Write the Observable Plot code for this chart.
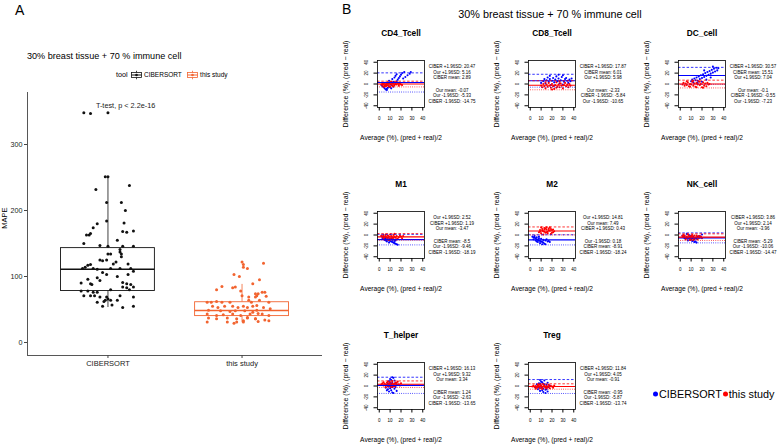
<!DOCTYPE html>
<html><head><meta charset="utf-8">
<script src="https://cdn.jsdelivr.net/npm/d3@7"></script>
<script src="https://cdn.jsdelivr.net/npm/@observablehq/plot@0.6"></script>
<style>
html,body{margin:0;padding:0;background:#fff;}
#root{position:relative;width:778px;height:445px;overflow:hidden;font-family:"Liberation Sans",Arial,Helvetica,sans-serif;color:#000;}
.abs{position:absolute;white-space:nowrap;line-height:1;transform:translateY(-50%);}
.plot{position:absolute;}
.plot svg{overflow:visible;max-width:none !important;display:block;}
</style></head><body><div id="root"></div>
<script>
// ---------------- DATA ----------------
const mainTitle = "30% breast tissue + 70 % immune cell";
const tools = ["CIBERSORT", "this study"];
const toolColors = ["#111111", "#F26430"];
const boxQ1 = [78, 40];
const boxMedian = [111, 48.5];
const boxQ3 = [143, 61];
const whiskerLo = [53, 30];
const whiskerHi = [250, 88];
const yTicksA = [0, 100, 200, 300];
const pLabel = "T-test, p < 2.2e-16";
// [jitter offset, MAPE]
const ciberMape = [[-0.18,348],[-0.13,347],[0.00,348],[-0.02,251],[0.00,251],[-0.09,232],[0.16,238],
[-0.01,212],[0.10,212],[0.13,200],[-0.01,184],[0.12,181],[-0.08,180],[-0.11,174],[0.11,168],[0.14,167],[0.19,169],[-0.16,163],[-0.14,163],[-0.13,165],[0.07,155],[-0.18,150],[-0.06,147],[0.00,146],[0.11,146],[0.19,146],[0.09,141],[0.09,137],[0.10,134],[0.00,134],[0.02,134],[0.10,130],[-0.06,125],[-0.04,124],[-0.01,125],[0.06,122],[0.04,119],[0.15,119],[-0.15,117],[-0.13,118],[-0.17,114],[-0.19,112],[-0.11,112],[-0.08,111],[0.02,112],[0.09,112],[0.17,112],[0.19,108],[-0.04,106],[0.15,103],[-0.01,103],[0.07,100],[-0.08,98],[-0.15,96],[-0.06,94],[-0.20,90],[-0.13,89],[-0.12,88],[0.11,91],[0.14,89],[0.17,88],[0.11,84],[0.14,83],[0.19,84],[-0.20,78],[-0.15,78],[-0.11,76],[-0.08,76],[0.02,80],[0.16,80],[-0.18,71],[-0.13,71],[-0.10,71],[0.09,71],[0.19,69],[-0.06,69],[-0.01,69],[-0.08,61],[-0.03,62],[0.02,64],[0.07,64],[-0.04,55],[0.03,57],[0.11,53],[0.19,55],[-0.02,64],[0.00,66]];
const studyMape = [[0.00,122],[0.01,118],[0.01,114],[0.04,112],[-0.06,103],[-0.02,100],[0.08,89],[-0.07,83],[-0.05,84],[-0.15,85],[-0.19,80],[-0.01,78],[0.11,71],[0.12,74],[0.10,69],[-0.26,61],[-0.23,61],[-0.19,62],[-0.15,61],[-0.09,61],[0.05,64],[0.07,61],[-0.22,55],[-0.18,53],[-0.13,55],[-0.07,55],[-0.03,53],[0.01,55],[0.04,53],[0.08,55],[-0.25,49],[-0.16,48],[-0.09,47],[-0.05,48],[0.02,48],[0.11,49],[-0.26,43],[-0.19,41],[-0.14,42],[-0.07,43],[-0.01,41],[0.06,43],[0.12,44],[-0.25,37],[-0.19,36],[-0.11,37],[-0.04,36],[0.04,37],[0.10,36],[-0.26,31],[-0.06,29],[-0.04,31],[0.01,33],[-0.11,31],[0.00,71],[0.05,69],[0.10,74],[0.15,76],[0.18,70],[0.17,76],[0.13,64],[0.20,61],[0.11,56],[0.16,53],[0.21,51],[0.08,46],[0.15,43],[0.20,41],[0.04,38],[0.10,36],[0.17,34],[0.01,31],[0.12,32],[0.20,33],[0.16,120],[0.13,95]];

const cellTypes = ["CD4_Tcell","CD8_Tcell","DC_cell","M1","M2","NK_cell","T_helper","Treg"];
const ciberUpper = [20.47, 17.87, 30.57, 1.19, 0.43, 3.86, 16.13, 11.84];
const ciberMean  = [2.89, 6.01, 15.51, -8.5, -8.91, -5.29, 1.24, -0.95];
const ciberLower = [-14.75, -5.84, -0.55, -18.19, -18.24, -14.47, -13.65, -13.74];
const ourUpper   = [5.16, 5.98, 7.04, 2.52, 14.81, 2.14, 9.32, 4.05];
const ourMean    = [-0.07, -2.33, -0.1, -3.47, 7.49, -3.96, 3.34, -0.91];
const ourLower   = [-5.33, -10.65, -7.23, -9.46, 0.18, -10.06, -2.63, -5.87];
const xTicksB = [0, 10, 20, 30, 40];
const yTicksB = [-40, -20, 0, 20, 40];
// [average, difference]
const cd4Ciber = [[2,-2],[3,-4],[4,-6],[5,-8],[6,-10],[7,-9],[8,-7],[5,-3],[6,-1],[8,1],[9,-4],[10,-6],[11,-2],[12,1],[10,3],[13,4],[14,-1],[15,2],[16,5],[17,8],[18,11],[19,14],[20,17],[21,20],[23,22],[14,12],[15,15],[16,18],[22,10],[24,13],[26,16],[28,19],[29,22],[12,9],[9,6],[11,-8],[7,-11],[13,-5]];
const cd4Ours = [[2,-1],[3,-2],[4,0],[5,-3],[6,-1],[7,1],[8,-2],[9,-4],[10,0],[11,-1],[12,-3],[13,1],[14,-2],[15,0],[16,-1],[17,2],[18,-3],[19,1],[20,-1],[5,2],[6,-4],[8,3],[10,-5],[12,2],[14,3],[4,-5],[7,-3],[9,1],[11,4],[13,-4],[16,3],[18,0],[3,1],[21,-2]];
const cd8Ciber = [[10,2],[12,5],[13,9],[14,1],[15,7],[16,12],[17,4],[18,9],[19,-2],[20,6],[21,11],[22,3],[23,8],[24,14],[25,5],[26,10],[27,1],[28,7],[29,13],[30,16],[31,4],[32,9],[33,11],[34,6],[35,2],[36,8],[37,5],[38,10],[18,15],[22,-3],[26,17],[30,-1]];
const cd8Ours = [[10,-3],[11,-6],[12,0],[13,-4],[14,-8],[15,-1],[16,-5],[17,2],[18,-3],[19,-7],[20,0],[21,-4],[22,-9],[23,-2],[24,3],[25,-5],[26,-1],[27,-6],[28,1],[29,-3],[30,-8],[31,-2],[32,2],[33,-4],[34,-1],[35,-6],[36,0],[37,-3],[14,3],[20,-10],[27,4],[24,-7]];
const dcCiber = [[10,5],[11,8],[12,3],[13,10],[14,7],[15,12],[16,6],[17,14],[18,9],[19,16],[20,11],[21,18],[22,13],[23,20],[24,15],[25,22],[26,17],[27,24],[28,19],[29,26],[30,21],[31,28],[32,23],[33,30],[34,25],[35,29],[16,2],[20,4],[24,8],[28,12],[22,25],[30,32]];
const dcOurs = [[2,-1],[3,2],[4,-3],[5,1],[6,-2],[7,3],[8,-4],[9,0],[10,-1],[11,4],[12,-3],[13,1],[14,-5],[15,2],[16,-1],[17,5],[18,-2],[19,0],[20,-6],[21,3],[22,-3],[23,1],[24,-4],[25,2],[26,-1],[27,0],[6,5],[9,-5],[12,6],[15,-6],[18,4],[21,-7]];
const m1Ciber = [[2,-2],[3,-4],[4,-5],[5,-6],[6,-7],[7,-9],[8,-8],[9,-10],[10,-11],[11,-12],[12,-13],[13,-14],[14,-15],[15,-16],[16,-17],[17,-18],[4,-2],[6,-4],[8,-5],[10,-7],[12,-9],[14,-11],[5,-9],[7,-12],[9,-14],[3,-7],[11,-6],[13,-8],[15,-10],[6,-10]];
const m1Ours = [[2,-1],[3,-3],[4,0],[5,-4],[6,-2],[7,-5],[8,-1],[9,-3],[10,-6],[11,-2],[12,-4],[13,0],[14,-3],[15,-5],[16,-2],[17,-7],[18,-4],[19,-1],[20,-3],[21,-6],[6,1],[8,-8],[10,1],[12,-7],[14,2],[16,-8],[4,-6],[9,-9],[22,-2],[13,-5]];
const m2Ciber = [[2,-3],[3,-4],[4,-5],[5,-6],[6,-8],[7,-9],[8,-10],[9,-11],[10,-12],[11,-13],[12,-14],[13,-16],[14,-17],[4,-2],[6,-4],[8,-6],[10,-7],[12,-9],[14,-10],[16,-12],[18,-13],[5,-10],[7,-13],[9,-15],[11,-17],[3,-8],[15,-8],[17,-11],[6,-12],[8,-3]];
const m2Ours = [[8,5],[9,9],[10,3],[11,11],[12,7],[13,13],[14,4],[15,10],[16,6],[17,12],[18,8],[19,2],[20,9],[21,5],[22,7],[10,14],[12,1],[14,12],[16,3],[18,14],[9,6],[11,8],[13,10],[15,5],[17,9],[19,11],[20,4],[13,6],[15,14],[21,10]];
const nkCiber = [[2,-1],[3,-3],[4,-2],[5,-5],[6,-4],[7,-7],[8,-6],[9,-9],[10,-8],[11,-11],[12,-10],[13,-13],[14,-12],[15,-14],[16,-3],[17,-5],[18,-2],[19,-4],[20,1],[6,2],[8,0],[10,-1],[12,-3],[14,-5],[4,-6],[7,-10],[9,-3],[11,-6],[13,-8],[15,-7]];
const nkOurs = [[2,-2],[3,-4],[4,-1],[5,-5],[6,-3],[7,-6],[8,-2],[9,-4],[10,-7],[11,-3],[12,-5],[13,-1],[14,-6],[15,-4],[16,-8],[17,-2],[18,-5],[19,-3],[20,-6],[3,0],[5,-8],[7,1],[9,-9],[11,0],[13,-7],[15,-1],[6,-6],[10,-2],[12,-9],[17,-4]];
const thCiber = [[6,-3],[7,2],[8,-6],[8,5],[9,-10],[9,9],[10,-1],[10,13],[11,-8],[11,4],[12,-12],[12,7],[13,0],[13,15],[14,-5],[14,10],[15,-2],[15,6],[16,-9],[16,3],[7,-8],[9,1],[10,-4],[11,11],[12,-2],[13,-13],[14,1],[10,6],[12,16],[8,-1]];
const thOurs = [[2,3],[3,5],[4,1],[5,4],[6,2],[7,6],[8,0],[9,3],[10,7],[11,2],[12,5],[13,-1],[14,4],[15,6],[16,2],[17,8],[18,3],[19,1],[20,5],[4,7],[6,-2],[8,8],[10,1],[12,9],[14,0],[16,6],[9,4],[11,-2],[13,3],[15,1]];
const tregCiber = [[5,-2],[6,3],[7,-6],[8,5],[9,-9],[10,1],[10,8],[11,-4],[12,-11],[12,4],[13,-1],[13,10],[14,-7],[15,2],[15,-3],[16,6],[16,-10],[17,-2],[18,1],[7,1],[8,-3],[9,4],[11,7],[14,-13],[11,-8],[13,3],[15,-6],[9,11],[12,-5],[10,-2]];
const tregOurs = [[2,-1],[3,1],[4,-2],[5,0],[6,-3],[7,2],[8,-1],[9,-4],[10,1],[11,-2],[12,3],[13,-1],[14,-3],[15,0],[16,-2],[17,2],[18,-4],[19,0],[20,-1],[21,-3],[22,1],[5,-5],[7,-2],[9,3],[11,-5],[13,1],[15,-4],[17,-1],[8,2],[12,-1]];
const legendB = ["CIBERSORT", "this study"];
const seriesColors = ["#0000FF", "#FF0000"];

// ---------------- LAYOUT ----------------
const FONT = '"Liberation Sans", Arial, Helvetica, sans-serif';
const root = document.getElementById("root");
function addText(txt, x, y, size, extra = "") {
  const d = document.createElement("div");
  d.className = "abs";
  d.style.cssText = `left:${x}px;top:${y}px;font-size:${size}px;${extra}`;
  d.innerHTML = txt;
  root.appendChild(d);
  return d;
}
function place(svg, left, top, w, h) {
  const d = document.createElement("div");
  d.className = "plot";
  d.style.left = left + "px";
  d.style.top = top + "px";
  d.style.width = w + "px";
  d.style.height = h + "px";
  d.appendChild(svg);
  root.appendChild(d);
}

// ---------------- PANEL A ----------------
addText("A", 15, 10, 14);
addText(mainTitle, 27, 57, 9.1);
function keyIcon(color) {
  return `<svg width="11" height="9" style="vertical-align:middle"><line x1="5.5" y1="0" x2="5.5" y2="9" stroke="${color}" stroke-width="0.8"/><rect x="0.5" y="2" width="10" height="5" fill="white" stroke="${color}" stroke-width="0.8"/><line x1="0.5" y1="4.5" x2="10.5" y2="4.5" stroke="${color}" stroke-width="1"/><circle cx="5.5" cy="4.5" r="1.3" fill="${color}"/></svg>`;
}
addText(`<span style="font-size:7.2px">tool</span>&nbsp; ${keyIcon(toolColors[0])}&nbsp;<span>${tools[0]}</span>&nbsp;&nbsp; ${keyIcon(toolColors[1])}&nbsp;<span>${tools[1]}</span>`, 116, 75, 6.5);

const xDomainA = [0.4, 2.6];
const yDomainA = [-19.7, 378.8];
const BOXHALF = 0.35;
const boxes = tools.map((t, i) => ({tool: t, pos: i + 1, q1: boxQ1[i], med: boxMedian[i], q3: boxQ3[i], lo: whiskerLo[i], hi: whiskerHi[i]}));
const ptsA = [
  ...ciberMape.map(([j, v]) => ({tool: tools[0], pos: 1 + j, v})),
  ...studyMape.map(([j, v]) => ({tool: tools[1], pos: 2 + j, v}))
];
const plotA = Plot.plot({
  width: 330, height: 290,
  marginLeft: 27, marginRight: 8, marginTop: 7, marginBottom: 20,
  x: {type: "linear", domain: xDomainA},
  y: {domain: yDomainA},
  color: {domain: tools, range: toolColors},
  style: {fontFamily: FONT, background: "transparent", color: "#222"},
  marks: [
    Plot.ruleX(boxes, {x: "pos", y1: "q3", y2: "hi", stroke: "tool", strokeWidth: 0.8}),
    Plot.ruleX(boxes, {x: "pos", y1: "lo", y2: "q1", stroke: "tool", strokeWidth: 0.8}),
    Plot.rect(boxes, {x1: d => d.pos - BOXHALF, x2: d => d.pos + BOXHALF, y1: "q1", y2: "q3", fill: "white", stroke: "tool", strokeWidth: 0.9}),
    Plot.ruleY(boxes, {y: "med", x1: d => d.pos - BOXHALF, x2: d => d.pos + BOXHALF, stroke: "tool", strokeWidth: 1.3}),
    Plot.dot(ptsA, {x: "pos", y: "v", fill: "tool", r: 1.5}),
    Plot.ruleX([xDomainA[0]], {stroke: "#444", strokeWidth: 0.9}),
    Plot.ruleY([yDomainA[0]], {stroke: "#444", strokeWidth: 0.9}),
    Plot.axisY({ticks: yTicksA, tickSize: 3, tickPadding: 2, fontSize: 7.2, label: null, stroke: "#444"}),
    Plot.axisX({ticks: [1, 2], tickFormat: d => tools[d - 1], tickSize: 3, tickPadding: 2, fontSize: 7.5, label: null, stroke: "#444"}),
    Plot.text([pLabel], {x: 0.91, y: 359, text: d => d, textAnchor: "start", fontSize: 7.3, fill: "#222"})
  ]
});
place(plotA, 0, 85, 330, 290);
addText("MAPE", 4.5, 218, 7.5, "transform:translate(-50%,-50%) rotate(-90deg);");

// ---------------- PANEL B ----------------
addText("B", 342, 9, 14);
addText(mainTitle, 550, 14, 10.8, "transform:translate(-50%,-50%);");

const ciberPtsList = [cd4Ciber, cd8Ciber, dcCiber, m1Ciber, m2Ciber, nkCiber, thCiber, tregCiber];
const oursPtsList = [cd4Ours, cd8Ours, dcOurs, m1Ours, m2Ours, nkOurs, thOurs, tregOurs];
const B_LEFT0 = 377, B_COL = 150.5, B_TOP0 = 60, B_ROW = 151;
const FW = 47, FH = 47;
const mL = 40, mR = 78, mT = 32, mB = 36;
const annotOffsets = [6, 11.6, 17.2, 29.6, 35.2, 40.8];
const mid = {textAnchor: "middle", lineAnchor: "middle"};

cellTypes.forEach((name, i) => {
  const col = i % 3, row = Math.floor(i / 3);
  const fl = B_LEFT0 + B_COL * col, ft = B_TOP0 + B_ROW * row;
  const lines = [
    {label: "CIBER +1.96SD", value: ciberUpper[i], s: 0, dash: "2.5,1.8"},
    {label: "CIBER mean", value: ciberMean[i], s: 0, dash: null},
    {label: "CIBER -1.96SD", value: ciberLower[i], s: 0, dash: "0.8,1.4"},
    {label: "Our +1.96SD", value: ourUpper[i], s: 1, dash: "2.5,1.8"},
    {label: "Our mean", value: ourMean[i], s: 1, dash: null},
    {label: "Our -1.96SD", value: ourLower[i], s: 1, dash: "0.8,1.4"}
  ];
  const sorted = lines.slice().sort((a, b) => b.value - a.value);
  const ciber = ciberPtsList[i], ours = oursPtsList[i];
  const marks = [
    Plot.dot(ciber, {x: d => d[0], y: d => d[1], fill: seriesColors[0], r: 1.05}),
    Plot.dot(ours, {x: d => d[0], y: d => d[1], fill: seriesColors[1], r: 1.05}),
    ...lines.map(l => Plot.ruleY([l.value], {stroke: seriesColors[l.s], strokeWidth: l.dash ? 0.8 : 1.1, strokeDasharray: l.dash || undefined})),
    Plot.frame({stroke: "#000", strokeWidth: 0.8}),
    Plot.axisX({ticks: xTicksB, tickSize: 3.5, tickPadding: 6, fontSize: 4.5, label: null, stroke: "#000"}),
    Plot.axisY({ticks: yTicksB, tickSize: 3.5, tickFormat: () => "", label: null, stroke: "#000"}),
    Plot.text(yTicksB, {y: d => d, text: d => String(d), frameAnchor: "left", dx: -11, rotate: -90, fontSize: 4.5, fill: "#000", ...mid}),
    Plot.text([name], {text: d => d, frameAnchor: "top", dy: -27, fontSize: 8.3, fontWeight: "bold", fill: "#000", ...mid}),
    Plot.text(["Average (%), (pred + real)/2"], {text: d => d, frameAnchor: "bottom", dy: 30, fontSize: 6.6, fill: "#000", ...mid}),
    Plot.text(["Difference (%), (pred \u2212 real)"], {text: d => d, frameAnchor: "left", dx: -32, rotate: -90, fontSize: 7, fill: "#000", ...mid}),
    ...sorted.map((l, k) => Plot.text([l], {text: d => `${d.label}: ${d.value}`, frameAnchor: "top-right", dx: 27.5, dy: annotOffsets[k], fontSize: 4.5, fill: "#000", ...mid}))
  ];
  const W = mL + FW + mR, H = mT + FH + mB;
  const chart = Plot.plot({
    width: W, height: H,
    marginLeft: mL, marginRight: mR, marginTop: mT, marginBottom: mB,
    x: {domain: [-1.6, 41.6]},
    y: {domain: [-43.2, 43.2]},
    style: {fontFamily: FONT, background: "transparent", color: "#000"},
    marks
  });
  place(chart, fl - mL, ft - mT, W, H);
});

// legend for panel B
const bullet = c => `<span style="display:inline-block;width:5px;height:5px;border-radius:50%;background:${c};vertical-align:middle;margin:0 1px 1px 1px"></span>`;
addText(`${bullet(seriesColors[0])}${legendB[0]}${bullet(seriesColors[1])}${legendB[1]}`, 652, 394, 10.8);
</script>
</body></html>
